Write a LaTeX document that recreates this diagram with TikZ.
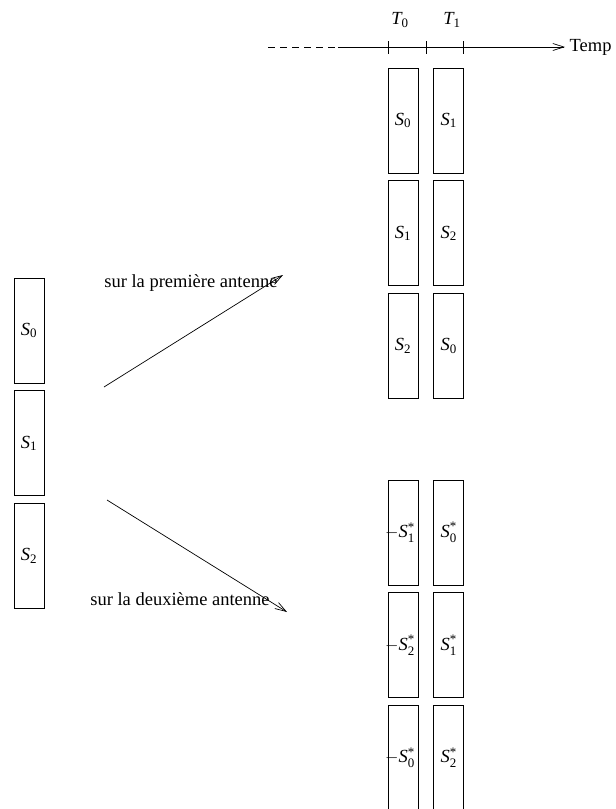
\documentclass[tikz,border=0pt]{standalone}
\usepackage{amsmath}
\usepackage{fontspec}
\setmainfont{Liberation Serif}
\usetikzlibrary{positioning,arrows.meta}

\newcommand{\sg}[1]{{\itshape S}$_{\text{#1}}$}
\newcommand{\sgc}[1]{{\itshape S}$^{\text{*}}_{\text{#1}}$}

\begin{document}
\begin{tikzpicture}[x=1pt, y=-1pt, node distance=7pt and 15pt,
	font=\fontsize{18.5}{22}\selectfont, line width=0.7pt,
	bloc/.style={draw, minimum width=30pt, minimum height=105pt, inner sep=0pt},
	fleche/.style={-{Straight Barb[length=11pt,width=7pt]}}]
	\useasboundingbox (0,0) rectangle (616,809);

	% axe du temps
	\coordinate (debut) at (268,47);
	\coordinate (plein) at (338,47);
	\coordinate (fin) at (565,47);
	\draw[dash pattern=on 7pt off 5pt] (debut) -- (plein);
	\draw[fleche] (plein) -- (fin) node[right, xshift=1pt] (temps) {Temp};
	\foreach \x in {388,426,463}
		\draw (\x,41) -- (\x,54);
	\node (t0) at (400,20) {{\itshape T}$_{\text{0}}$};
	\node (t1) at (452,20) {{\itshape T}$_{\text{1}}$};

	% symboles d'origine
	\node[bloc] (s0) at (29,330.5) {\sg{0}};
	\node[bloc, below=of s0] (s1) {\sg{1}};
	\node[bloc, below=of s1] (s2) {\sg{2}};

	% premiere antenne
	\node[bloc] (a0) at (403,120.5) {\sg{0}};
	\node[bloc, right=of a0] (b0) {\sg{1}};
	\node[bloc, below=of a0] (a1) {\sg{1}};
	\node[bloc, right=of a1] (b1) {\sg{2}};
	\node[bloc, below=of a1] (a2) {\sg{2}};
	\node[bloc, right=of a2] (b2) {\sg{0}};

	% deuxieme antenne
	\node[bloc] (c0) at (403,532.5) {\hspace*{-6pt}${-}$\sgc{1}};
	\node[bloc, right=of c0] (d0) {\sgc{0}};
	\node[bloc, below=of c0] (c1) {\hspace*{-6pt}${-}$\sgc{2}};
	\node[bloc, right=of c1] (d1) {\sgc{1}};
	\node[bloc, below=of c1] (c2) {\hspace*{-6pt}${-}$\sgc{0}};
	\node[bloc, right=of c2] (d2) {\sgc{2}};

	% fleches
	\coordinate (h1) at (104,387);
	\coordinate (h2) at (283,275);
	\coordinate (k1) at (107,500);
	\coordinate (k2) at (287,612);
	\draw[fleche] (h1) -- (h2);
	\draw[fleche] (k1) -- (k2);
	\node[anchor=base west, inner sep=0pt] (l1) at (104,287) {sur la première antenne};
	\node[anchor=base west, inner sep=0pt] (l2) at (90,605) {sur la deuxième antenne};
\end{tikzpicture}
\end{document}
